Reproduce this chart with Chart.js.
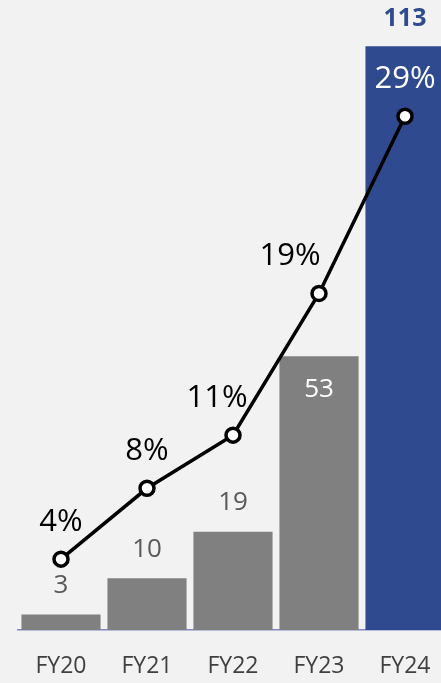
<!DOCTYPE html>
<html>
<head>
<meta charset="utf-8">
<script src="https://cdn.jsdelivr.net/npm/chart.js@4/dist/chart.umd.min.js"></script>
<style>
  html, body { margin: 0; padding: 0; background: #f2f2f2; overflow: hidden; }
  #wrap { position: relative; width: 441px; height: 683px; overflow: hidden; }
  #c { position: absolute; left: 0; top: 0; }
</style>
</head>
<body>
<div id="wrap"><canvas id="c" width="448" height="683"></canvas></div>
<script>
// Fiscal years, revenue bars and share line
const categories = ['FY20', 'FY21', 'FY22', 'FY23', 'FY24'];
const barValues = [3, 10, 19, 53, 113];
const shareValues = [4, 8, 11, 19, 29];
const shareLabels = ['4%', '8%', '11%', '19%', '29%'];

const GRAY = '#808080';
const BLUE = '#2f4a8e';
const FONT = '"Open Sans", "Noto Sans", sans-serif';

// Draws the value labels for bars and the share labels above line points
const labelPlugin = {
  id: 'valueLabels',
  afterDatasetsDraw(chart) {
    const ctx = chart.ctx;
    const barMeta = chart.getDatasetMeta(1);
    const lineMeta = chart.getDatasetMeta(0);
    // share labels on the steep part of the line sit up-left so they clear it
    const shiftX = [0, 0, -16, -29, 0];
    ctx.save();
    ctx.textAlign = 'center';
    ctx.textBaseline = 'middle';
    barMeta.data.forEach((bar, i) => {
      const last = i === barValues.length - 1;
      let y, color, weight;
      if (last) {
        y = bar.y - 27; color = BLUE; weight = 'bold';
      } else if (i === 3) {
        y = bar.y + 33; color = '#ffffff'; weight = 'normal';
      } else {
        y = bar.y - 29; color = '#595959'; weight = 'normal';
      }
      ctx.font = weight + ' ' + (last ? 25 : 26) + 'px ' + FONT;
      ctx.fillStyle = color;
      ctx.fillText(String(barValues[i]), bar.x, y);
    });
    lineMeta.data.forEach((pt, i) => {
      ctx.font = 'normal 31px ' + FONT;
      ctx.fillStyle = i === shareValues.length - 1 ? '#ffffff' : '#000000';
      ctx.fillText(shareLabels[i], pt.x + shiftX[i], pt.y - 37);
    });
    ctx.restore();
  }
};

new Chart(document.getElementById('c'), {
  data: {
    labels: categories,
    datasets: [
      {
        type: 'line',
        data: shareValues,
        yAxisID: 'y1',
        borderColor: '#000000',
        borderWidth: 3.5,
        pointRadius: 7,
        pointBorderWidth: 3.5,
        pointBackgroundColor: '#ffffff',
        pointBorderColor: '#000000',
        tension: 0,
        order: 0
      },
      {
        type: 'bar',
        data: barValues,
        yAxisID: 'y',
        backgroundColor: barValues.map((v, i) => i === barValues.length - 1 ? BLUE : GRAY),
        barPercentage: 0.92,
        categoryPercentage: 1,
        order: 1
      }
    ]
  },
  options: {
    responsive: false,
    animation: false,
    layout: { autoPadding: false, padding: { left: 18, right: 0, top: 10, bottom: 0 } },
    plugins: { legend: { display: false }, tooltip: { enabled: false } },
    scales: {
      x: {
        grid: { display: false, drawTicks: false },
        border: { display: true, color: '#7f88c4', width: 1.5 },
        ticks: { color: '#404040', font: { family: FONT, size: 23 }, padding: 23 },
        afterFit(scale) { scale.height = 53; scale.paddingLeft = 0; scale.paddingRight = 0; }
      },
      y: {
        display: false,
        min: 0,
        max: 120
      },
      y1: {
        display: false,
        min: 0,
        max: 35
      }
    }
  },
  plugins: [labelPlugin]
});
</script>
</body>
</html>
